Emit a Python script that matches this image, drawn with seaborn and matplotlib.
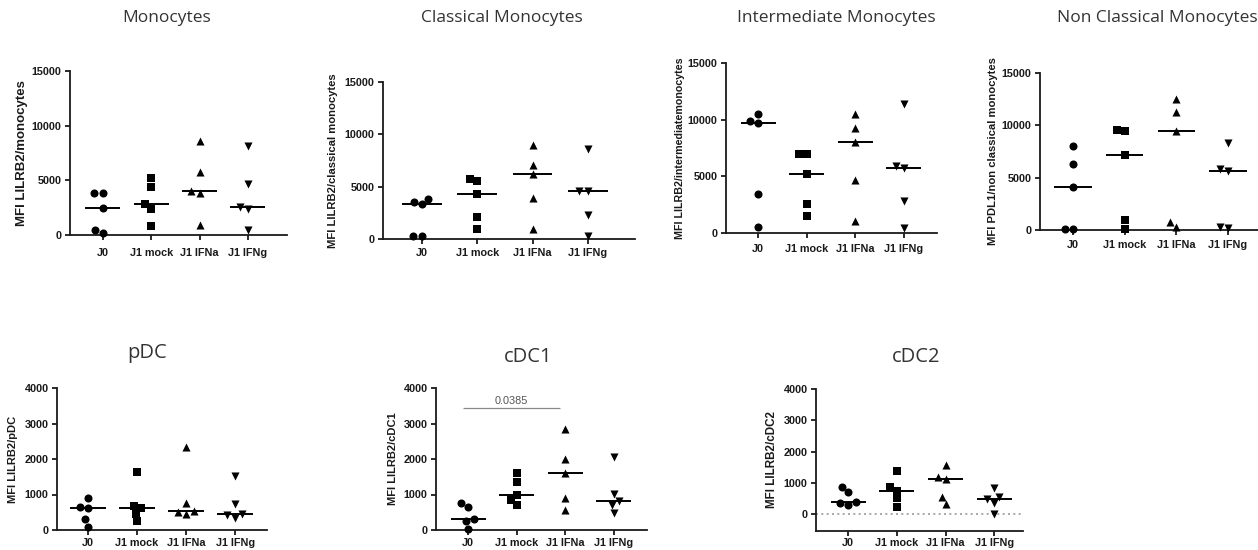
import numpy as np
import pandas as pd
import matplotlib
matplotlib.use("Agg")
import matplotlib.pyplot as plt
import seaborn as sns

# ---------------- data ----------------
groups = ["J0", "J1 mock", "J1 IFNa", "J1 IFNg"]
group_markers = ["o", "s", "^", "v"]

titles = ["Monocytes", "Classical Monocytes", "Intermediate Monocytes",
          "Non Classical Monocytes", "pDC", "cDC1", "cDC2"]
ylabels = ["MFI LILRB2/monocytes", "MFI LILRB2/classical monocytes",
           "MFI LILRB2/intermediatemonocytes", "MFI PDL1/non classical monocytes",
           "MFI LILRB2/pDC", "MFI LILRB2/cDC1", "MFI LILRB2/cDC2"]

monocytes = [[3800, 3800, 2500, 200, 500],
             [5200, 4400, 2800, 2400, 800],
             [8600, 5800, 4000, 3800, 900],
             [8100, 4700, 2600, 2400, 500]]
classical = [[3800, 3300, 3500, 300, 300],
             [5700, 5500, 4300, 2100, 1000],
             [9000, 7100, 6200, 3900, 1000],
             [8600, 4600, 4600, 2300, 300]]
intermediate = [[10500, 9700, 9900, 3400, 500],
                [7000, 7000, 5200, 2600, 1500],
                [10500, 9300, 8000, 4700, 1100],
                [11400, 5900, 5700, 2800, 400]]
nonclassical = [[8000, 6300, 4100, 100, 100],
                [9600, 9500, 7200, 1000, 100],
                [12500, 11300, 9500, 800, 300],
                [8300, 5800, 5600, 200, 300]]
pdc = [[890, 650, 610, 300, 90],
       [1630, 680, 610, 450, 240],
       [2330, 770, 540, 520, 440],
       [1520, 730, 450, 410, 330]]
cdc1 = [[750, 640, 300, 240, 20],
        [1600, 1360, 980, 850, 710],
        [2840, 2000, 1600, 890, 550],
        [2070, 1020, 830, 710, 490]]
cdc2 = [[880, 700, 370, 300, 350],
        [1370, 870, 750, 500, 240],
        [1570, 1200, 1110, 550, 320],
        [820, 550, 480, 340, 0]]

yticks_mono = [0, 5000, 10000, 15000]
yticks_dc = [0, 1000, 2000, 3000, 4000]

sig_label = "0.0385"
sig_y = 3440
sig_groups = (0, 2)

# ---------------- layout ----------------
W, H = 1258, 550
sns.set_theme(style="ticks")
plt.rcParams["font.family"] = ["Liberation Sans", "DejaVu Sans"]

fig = plt.figure(figsize=(W / 100, H / 100), dpi=100)
fig.patch.set_facecolor("white")

INK = "#1a1a1a"

panels = [
    dict(data=monocytes, rect=(70, 71, 287, 235), xlim=(-0.68, 3.81), ylim=(0, 15000),
         yt=yticks_mono, title=(167, 18, 12.5), lab=(22, 9.5), xoff=17),
    dict(data=classical, rect=(383, 82, 635, 239), xlim=(-0.70, 3.85), ylim=(0, 15000),
         yt=yticks_mono, title=(502, 18, 12.5), lab=(333, 8.1), xoff=14),
    dict(data=intermediate, rect=(726, 63, 937, 233), xlim=(-0.66, 3.68), ylim=(0, 15000),
         yt=yticks_mono, title=(836, 18, 12.5), lab=(680, 7.7), xoff=15),
    dict(data=nonclassical, rect=(1040, 73, 1262, 230), xlim=(-0.64, 3.66), ylim=(0, 15000),
         yt=yticks_mono, title=(1157, 18, 12.5), lab=(993, 8.1), xoff=15),
    dict(data=pdc, rect=(57, 388, 267, 530), xlim=(-0.63, 3.65), ylim=(0, 4000),
         yt=yticks_dc, title=(147, 353, 14.5), lab=(13, 8.0), xoff=13),
    dict(data=cdc1, rect=(436, 388, 647, 530), xlim=(-0.66, 3.68), ylim=(0, 4000),
         yt=yticks_dc, title=(528, 357, 14.5), lab=(393, 8.0), xoff=13),
    dict(data=cdc2, rect=(816, 389, 1023, 531), xlim=(-0.66, 3.59), ylim=(-544, 4000),
         yt=yticks_dc, title=(916, 357, 14.5), lab=(772, 8.4), xoff=12),
]

axes = []
for i, p in enumerate(panels):
    l, t, r, b = p["rect"]
    ax = fig.add_axes([l / W, 1 - b / H, (r - l) / W, (b - t) / H])
    axes.append(ax)
    for gi, (g, m) in enumerate(zip(groups, group_markers)):
        vals = p["data"][gi]
        df = pd.DataFrame({"group": [g] * len(vals), "value": vals})
        sns.swarmplot(data=df, x="group", y="value", order=groups, marker=m,
                      color="black", size=5.8 if m != "s" else 5.4, ax=ax,
                      legend=False, warn_thresh=1)
        med = np.median(vals)
        ax.hlines(med, gi - 0.36, gi + 0.36, color="black", lw=1.4, zorder=4,
                  clip_on=False)
    for coll in ax.collections:
        coll.set_clip_on(False)
    ax.set_xlim(*p["xlim"])
    ax.set_ylim(*p["ylim"])
    ax.set_yticks(p["yt"])
    ax.set_yticklabels([str(v) for v in p["yt"]])
    ax.set_xticks(range(len(groups)))
    ax.set_xticklabels(groups)
    ax.set_xlabel("")
    ax.set_ylabel("")
    for s in ["top", "right"]:
        ax.spines[s].set_visible(False)
    for s in ["left", "bottom"]:
        ax.spines[s].set_linewidth(1.3)
        ax.spines[s].set_color(INK)
    ax.spines["left"].set_bounds(p["ylim"][0], p["yt"][-1])
    xpad_px = p["xoff"] - 5 - 4.5
    ax.tick_params(axis="x", length=3.6, width=1.3, color=INK, pad=xpad_px * 0.72,
                   labelsize=7.8, labelcolor=INK)
    ax.tick_params(axis="y", length=3.6, width=1.3, color=INK, pad=2.5,
                   labelsize=7.8, labelcolor=INK)
    for lab in ax.get_xticklabels() + ax.get_yticklabels():
        lab.set_fontweight("bold")
    ax.patch.set_alpha(0)

    tx, ty, ts = p["title"]
    fig.text(tx / W, 1 - ty / H, titles[i], ha="center", va="center",
             fontsize=ts, color="#333333", family=["Open Sans", "DejaVu Sans"])
    lx, ls = p["lab"]
    fig.text(lx / W, 1 - ((t + b) / 2) / H, ylabels[i], rotation=90,
             ha="center", va="center", fontsize=ls, fontweight="bold", color=INK)

# significance bar in cDC1
ax6 = axes[5]
ax6.hlines(sig_y, sig_groups[0] - 0.1, sig_groups[1] - 0.1, color="#8a8a8a", lw=0.9)
ax6.text((sig_groups[0] + sig_groups[1]) / 2 - 0.12, sig_y + 60, sig_label,
         ha="center", va="bottom", fontsize=7.8, color="#555555")

# dotted zero line in cDC2
ax7 = axes[6]
ax7.axhline(0, color="#9a9a9a", lw=1.2, ls=(0, (1.2, 2.0)), zorder=0)

fig.savefig("out.png", dpi=100, facecolor="white")
